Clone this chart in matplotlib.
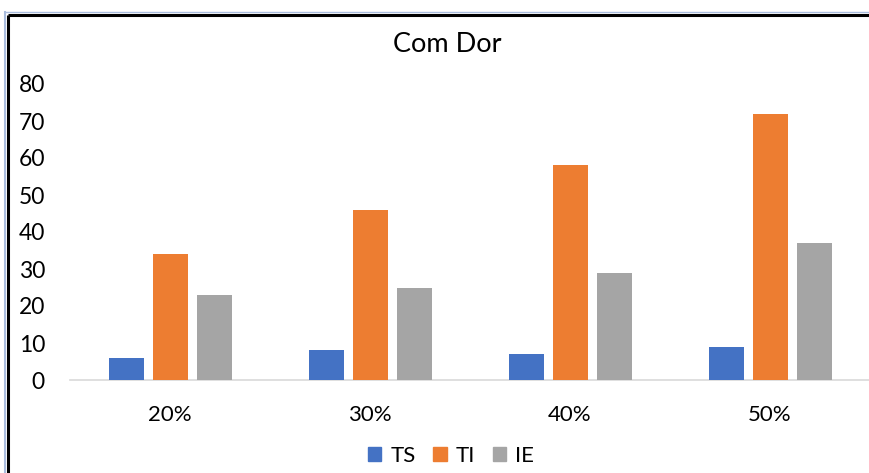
import matplotlib
matplotlib.use("Agg")
import matplotlib.pyplot as plt
from matplotlib.lines import Line2D
from matplotlib.patches import Rectangle
import numpy as np

categories = ["20%", "30%", "40%", "50%"]
series_names = ["TS", "TI", "IE"]
ts = [6, 8, 7, 9]
ti = [34, 46, 58, 72]
ie = [23, 25, 29, 37]
colors = ["#4472C4", "#ED7D31", "#A5A5A5"]
yticks = [0, 10, 20, 30, 40, 50, 60, 70, 80]

plt.rcParams['font.family'] = ['Lato', 'DejaVu Sans']

W, H = 869, 473
fig = plt.figure(figsize=(W/100, H/100), dpi=100)
fig.patch.set_facecolor("white")

def fx(px):
    return px / W

def fy(py):
    return 1 - py / H

ax = fig.add_axes([fx(70), fy(380), fx(800), (380 - 84) / H])
x = np.arange(len(categories))
width = 0.175
offsets = [-0.22, 0.0, 0.22]
for vals, off, c, name in zip([ts, ti, ie], offsets, colors, series_names):
    ax.bar(x + off, vals, width=width, color=c, label=name, zorder=3)

ax.set_xlim(-0.5, 3.5)
ax.set_ylim(0, 80)
ax.set_yticks(yticks)
ax.set_xticks(x)
ax.set_xticklabels(categories, fontsize=16, color="#000000")
ax.tick_params(axis='y', length=0, pad=18, labelsize=16.5, labelcolor="#000000")
ax.tick_params(axis='x', length=0, pad=18)
for s in ["top", "right", "left"]:
    ax.spines[s].set_visible(False)
ax.spines["bottom"].set_color("#D9D9D9")
ax.spines["bottom"].set_linewidth(1.2)
ax.set_facecolor("white")
ax.patch.set_alpha(0)

# Title
fig.text(fx(447), fy(45), "Com Dor", ha="center", va="center", fontsize=19.5, color="#000000")

# Legend
handles = [Rectangle((0, 0), 1, 1, color=c) for c in colors]
fig.legend(handles, series_names, loc="center", bbox_to_anchor=(fx(451), fy(456)),
           ncol=3, frameon=False, fontsize=16, handlelength=0.6, handleheight=0.6,
           handletextpad=0.4, columnspacing=0.8)

# Frame border lines of the screenshot
fig.add_artist(Line2D([fx(8), 1.0], [fy(15), fy(15)], color="black", lw=2.2,
                      solid_capstyle="butt", transform=fig.transFigure))
fig.add_artist(Line2D([fx(8), fx(8)], [fy(15), 0], color="black", lw=2.2,
                      solid_capstyle="butt", transform=fig.transFigure))
fig.add_artist(Line2D([fx(5), 1.0], [fy(12), fy(12)], color="#A9BCDD", lw=1.0, transform=fig.transFigure))
fig.add_artist(Line2D([fx(5), fx(5)], [fy(12), 0], color="#A9BCDD", lw=1.5, transform=fig.transFigure))

fig.savefig("out.png", dpi=100)
